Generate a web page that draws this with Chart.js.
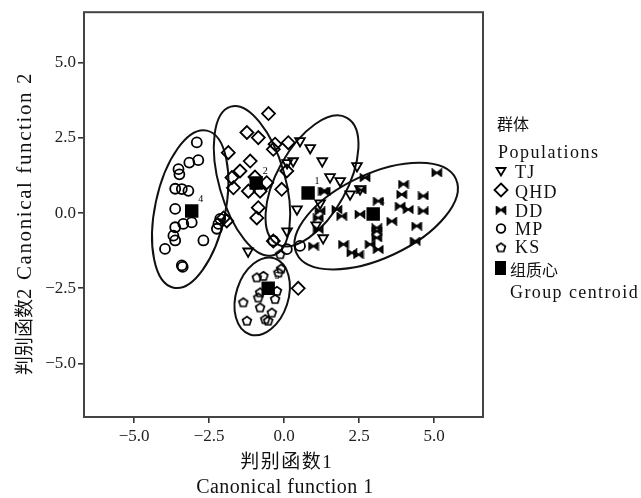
<!DOCTYPE html>
<html>
<head>
<meta charset="utf-8">
<script src="https://cdn.jsdelivr.net/npm/chart.js@4"></script>
<style>
  html, body { margin: 0; padding: 0; background: #fff; }
</style>
</head>
<body>
<canvas id="chart" width="641" height="498"></canvas>
<script>
// discriminant scores, [function 1, function 2]
const tjPoints = [[0.87,2.17],[0.3,1.73],[0.1,1.67],[1.27,1.73],[2.43,1.57],[1.87,1.07],[2.53,0.8],[2.2,0.63],
    [1.2,0.33],[0.43,0.13],[0.1,-0.6],[1.3,-0.83],[-1.2,-1.27],[0.53,2.4],[1.53,1.2],[1.07,-0.4]];
const qhdPoints = [[-0.52,3.31],[-1.24,2.68],[-0.86,2.51],[-0.3,2.29],[0.14,2.34],[-1.86,2.01],[-1.13,1.73],
    [-0.36,2.12],[-1.47,1.4],[-1.74,1.18],[-1.69,0.84],[-1.19,0.73],[-0.58,1.01],[-0.08,0.79],[-0.86,0.18],
    [-0.91,-0.16],[-0.36,-0.93],[-2.02,-0.16],[0.09,1.4],[0.47,-2.5],[-0.8,0.73],[-0.97,1.2],[-1.91,-0.26]];
const ddPoints = [[5.09,1.34],[2.7,1.18],[1.31,0.73],[3.98,0.96],[3.92,0.62],[4.64,0.57],[3.14,0.4],[3.87,0.23],
    [4.14,0.12],[4.64,0.07],[1.76,0.12],[1.92,-0.1],[2.53,-0.04],[3.59,-0.27],[4.42,-0.43],[3.09,-0.49],
    [3.09,-0.6],[3.09,-0.82],[2.87,-1.04],[3.14,-1.21],[1.98,-1.04],[2.26,-1.32],[2.48,-1.38],[0.98,-1.1],
    [1.14,-0.54],[4.37,-0.93],[1.14,-0.16],[1.2,0.07],[1.37,0.73],[2.57,0.77]];
const mpPoints = [[-2.91,2.35],[-2.86,1.76],[-3.16,1.68],[-3.52,1.46],[-3.49,1.29],[-3.63,0.81],[-3.41,0.8],
    [-3.19,0.74],[-3.63,0.14],[-3.08,-0.31],[-3.36,-0.36],[-3.63,-0.47],[-3.69,-0.75],[-3.63,-0.91],
    [-3.97,-1.19],[-2.69,-0.91],[-3.41,-1.74],[-3.38,-1.79],[-2.24,-0.52],[-2.13,-0.19],[-2.19,-0.36],
    [-0.36,-0.92],[0.09,-1.2],[0.53,-1.09]];
const ksPoints = [[-0.91,-2.14],[-0.69,-2.09],[-0.19,-1.98],[-0.13,-1.37],[-0.1,-1.85],[-0.8,-2.64],[-1.36,-2.97],
    [-0.86,-2.81],[-0.24,-2.59],[-0.3,-2.86],[-0.8,-3.14],[-0.41,-3.31],[-0.63,-3.53],[-0.53,-3.58],[-1.24,-3.58]];

const groupNames = ['TJ', 'QHD', 'DD', 'MP', 'KS'];
const centroids = [[0.8,0.67],[-0.93,1.0],[2.97,-0.03],[-3.08,0.07],[-0.53,-2.5]];
const centroidLabels = ['1', '2', '3', '4', '5'];

// group ellipses: centre, semi axes, tilt of the long axis (degrees)
const ellipseCenters = [[0.93,1.07],[-1.07,1.07],[3.07,-0.1],[-3.13,0.13],[-0.73,-2.77]];
const ellipseAxes = [[2.4,1.17],[2.57,1.1],[2.93,1.4],[2.67,1.17],[1.33,0.87]];
const ellipseAngles = [61, 106, 25, 78, 72];

const xTicks = [-5, -2.5, 0, 2.5, 5];
const yTicks = [-5, -2.5, 0, 2.5, 5];

const SERIF = '"Liberation Serif", "DejaVu Serif", serif';
const CJK = '"Noto Sans CJK SC", sans-serif';

function makeBowtie() {
    const c = document.createElement('canvas');
    c.width = 12; c.height = 9;
    const g = c.getContext('2d');
    g.strokeStyle = '#000';
    g.fillStyle = '#111';
    g.lineWidth = 1.6;
    g.beginPath();
    g.moveTo(1.5, 1.2); g.lineTo(1.5, 7.8); g.lineTo(6, 4.5); g.closePath();
    g.moveTo(10.5, 1.2); g.lineTo(10.5, 7.8); g.lineTo(6, 4.5); g.closePath();
    g.fill();
    g.stroke();
    return c;
}

function makePentagon() {
    const c = document.createElement('canvas');
    c.width = 12; c.height = 12;
    const g = c.getContext('2d');
    g.strokeStyle = '#000';
    g.lineWidth = 1.7;
    g.beginPath();
    for (let i = 0; i < 5; i++) {
        const a = -Math.PI / 2 + i * 2 * Math.PI / 5;
        const px = 6 + Math.cos(a) * 4.6, py = 6.3 + Math.sin(a) * 4.6;
        if (i === 0) g.moveTo(px, py); else g.lineTo(px, py);
    }
    g.closePath();
    g.stroke();
    return c;
}

const bowtie = makeBowtie();
const pentagon = makePentagon();

const markerStyles = [
    { pointStyle: 'triangle', rotation: 180, radius: 5.6 },
    { pointStyle: 'rectRot', rotation: 0, radius: 6.5 },
    { pointStyle: bowtie, rotation: 0, radius: 5 },
    { pointStyle: 'circle', rotation: 0, radius: 5 },
    { pointStyle: pentagon, rotation: 0, radius: 5 }
];

const allPoints = [tjPoints, qhdPoints, ddPoints, mpPoints, ksPoints];

const datasets = allPoints.map((pts, i) => ({
    label: groupNames[i],
    data: pts.map(p => ({ x: p[0], y: p[1] })),
    pointStyle: markerStyles[i].pointStyle,
    rotation: markerStyles[i].rotation,
    pointRadius: markerStyles[i].radius,
    borderColor: '#000',
    backgroundColor: 'rgba(0,0,0,0)',
    borderWidth: 1.8
}));

datasets.push({
    label: '组质心',
    data: centroids.map(p => ({ x: p[0], y: p[1] })),
    pointStyle: 'rect',
    pointRadius: 9.5,
    borderColor: '#000',
    backgroundColor: '#000',
    borderWidth: 0
});

function fmt(v) {
    const s = Math.abs(v).toFixed(1);
    return v < 0 ? '\u2212' + s : s;
}

// draws pieces of text in different fonts one after another on a common baseline
function drawRun(ctx, pieces, x, y) {
    let cx = x;
    pieces.forEach(p => {
        ctx.font = p.font;
        ctx.letterSpacing = (p.spacing || 0) + 'px';
        ctx.fillText(p.text, cx, y);
        cx += ctx.measureText(p.text).width;
    });
    ctx.letterSpacing = '0px';
    return cx - x;
}

function runWidth(ctx, pieces) {
    let w = 0;
    pieces.forEach(p => {
        ctx.font = p.font;
        ctx.letterSpacing = (p.spacing || 0) + 'px';
        w += ctx.measureText(p.text).width;
    });
    ctx.letterSpacing = '0px';
    return w;
}

function legendIcon(ctx, i, x, y) {
    ctx.save();
    ctx.strokeStyle = '#000';
    ctx.fillStyle = '#000';
    ctx.lineWidth = 1.8;
    if (i === 0) {
        ctx.beginPath();
        ctx.moveTo(x - 4.5, y - 3.5); ctx.lineTo(x + 4.5, y - 3.5); ctx.lineTo(x, y + 4);
        ctx.closePath(); ctx.stroke();
    } else if (i === 1) {
        ctx.beginPath();
        ctx.moveTo(x, y - 6.5); ctx.lineTo(x + 6.5, y); ctx.lineTo(x, y + 6.5); ctx.lineTo(x - 6.5, y);
        ctx.closePath(); ctx.stroke();
    } else if (i === 2) {
        ctx.drawImage(bowtie, x - 6, y - 4.5);
    } else if (i === 3) {
        ctx.beginPath(); ctx.arc(x, y, 4.3, 0, Math.PI * 2); ctx.stroke();
    } else if (i === 4) {
        ctx.drawImage(pentagon, x - 6, y - 6);
    } else {
        ctx.fillRect(x - 5.5, y - 7, 11, 14);
    }
    ctx.restore();
}

const decor = {
    id: 'decor',
    beforeDatasetsDraw(chart) {
        const ctx = chart.ctx;
        const xs = chart.scales.x, ys = chart.scales.y;
        const kx = xs.getPixelForValue(1) - xs.getPixelForValue(0);
        const ky = ys.getPixelForValue(0) - ys.getPixelForValue(1);
        ctx.save();
        ctx.strokeStyle = '#111';
        ctx.lineWidth = 2;
        ellipseCenters.forEach((c, i) => {
            ctx.save();
            ctx.translate(xs.getPixelForValue(c[0]), ys.getPixelForValue(c[1]));
            ctx.scale(kx, -ky);
            ctx.rotate(ellipseAngles[i] * Math.PI / 180);
            ctx.beginPath();
            ctx.ellipse(0, 0, ellipseAxes[i][0], ellipseAxes[i][1], 0, 0, Math.PI * 2);
            ctx.restore();
            ctx.stroke();
        });
        ctx.restore();
    },
    afterDatasetsDraw(chart) {
        const ctx = chart.ctx;
        const xs = chart.scales.x, ys = chart.scales.y;
        ctx.save();
        ctx.fillStyle = '#000';
        ctx.font = '10px ' + SERIF;
        ctx.textBaseline = 'middle';
        ctx.textAlign = 'center';
        centroids.forEach((c, i) => {
            ctx.fillText(centroidLabels[i], xs.getPixelForValue(c[0]) + 9, ys.getPixelForValue(c[1]) - 12);
        });
        ctx.restore();
    },
    afterDraw(chart) {
        const ctx = chart.ctx;
        const a = chart.chartArea;
        ctx.save();
        // frame
        ctx.strokeStyle = '#444';
        ctx.lineWidth = 2;
        ctx.strokeRect(a.left, a.top, a.right - a.left, a.bottom - a.top);

        ctx.fillStyle = '#111';
        ctx.textAlign = 'left';
        ctx.textBaseline = 'alphabetic';

        // x axis title, two lines
        const xt1 = [{ text: '判别函数', font: '19px ' + CJK, spacing: 1.5 }, { text: '1', font: '19px ' + SERIF }];
        const w1 = runWidth(ctx, xt1);
        drawRun(ctx, xt1, 286 - w1 / 2, 468);
        const xt2 = [{ text: 'Canonical function 1', font: '20px ' + SERIF, spacing: 0.5 }];
        const w2 = runWidth(ctx, xt2);
        drawRun(ctx, xt2, 285 - w2 / 2, 493);

        // y axis title, rotated
        ctx.save();
        ctx.translate(31, 375);
        ctx.rotate(-Math.PI / 2);
        drawRun(ctx, [
            { text: '判别函数', font: '19px ' + CJK },
            { text: '2 Canonical function 2', font: '21px ' + SERIF, spacing: 1.6 }
        ], 0, 0);
        ctx.restore();

        // legend
        drawRun(ctx, [{ text: '群体', font: '16px ' + CJK }], 497, 130);
        drawRun(ctx, [{ text: 'Populations', font: '18px ' + SERIF, spacing: 1.5 }], 498, 158);
        const rowY = [171.5, 190, 210, 228.5, 247.5, 268];
        const rowBase = [178, 198, 217, 235, 253];
        groupNames.forEach((name, i) => {
            legendIcon(ctx, i, 501, rowY[i]);
            drawRun(ctx, [{ text: name, font: '18px ' + SERIF, spacing: 1.2 }], 515, rowBase[i]);
        });
        legendIcon(ctx, 5, 500.5, rowY[5]);
        drawRun(ctx, [{ text: '组质心', font: '16px ' + CJK }], 510, 276);
        drawRun(ctx, [{ text: 'Group centroid', font: '18px ' + SERIF, spacing: 1.4 }], 510, 298);
        ctx.restore();
    }
};

const tickFont = { family: SERIF, size: 17 };

new Chart(document.getElementById('chart'), {
    type: 'scatter',
    data: { datasets: datasets },
    options: {
        responsive: false,
        animation: false,
        devicePixelRatio: 1,
        layout: { padding: { left: 0, right: 158, top: 11, bottom: 0 } },
        plugins: {
            legend: { display: false },
            tooltip: { enabled: false }
        },
        scales: {
            x: {
                type: 'linear',
                min: -6.67,
                max: 6.63,
                afterBuildTicks: (s) => { s.ticks = xTicks.map(v => ({ value: v })); },
                afterFit: (s) => { s.height = 81; },
                border: { display: false },
                grid: { drawOnChartArea: false, tickLength: 6, color: '#333', lineWidth: 1.6 },
                ticks: { color: '#222', font: tickFont, padding: 3, maxRotation: 0, autoSkip: false, callback: fmt }
            },
            y: {
                type: 'linear',
                min: -6.78,
                max: 6.68,
                afterBuildTicks: (s) => { s.ticks = yTicks.map(v => ({ value: v })); },
                afterFit: (s) => { s.width = 84; },
                border: { display: false },
                grid: { drawOnChartArea: false, tickLength: 6, color: '#333', lineWidth: 1.6 },
                ticks: { color: '#222', font: tickFont, padding: 2, autoSkip: false, callback: fmt }
            }
        }
    },
    plugins: [decor]
});
</script>
</body>
</html>
